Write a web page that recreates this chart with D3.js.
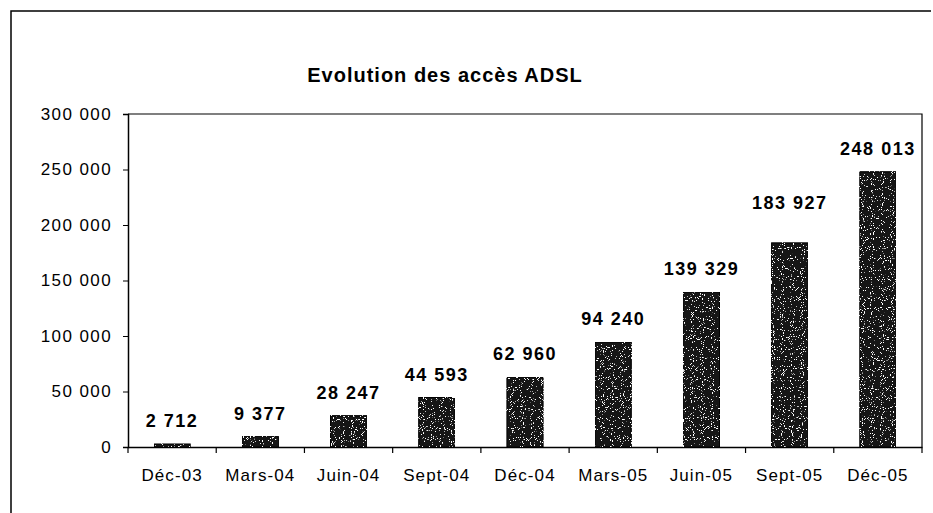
<!DOCTYPE html>
<html>
<head>
<meta charset="utf-8">
<script src="https://cdn.jsdelivr.net/npm/d3@7"></script>
<style>
  body { margin: 0; background: #fff; }
  svg { display: block; font-family: "Liberation Sans", Arial, sans-serif; }
</style>
</head>
<body>
<svg id="viz"></svg>
<script>
// ----------------------- DATA
const title = 'Evolution des accès ADSL';
const categories = ['Déc-03', 'Mars-04', 'Juin-04', 'Sept-04', 'Déc-04', 'Mars-05', 'Juin-05', 'Sept-05', 'Déc-05'];
const values = [2712, 9377, 28247, 44593, 62960, 94240, 139329, 183927, 248013];
const yTicks = [0, 50000, 100000, 150000, 200000, 250000, 300000];

// ----------------------- SETTINGS
const W = 933, H = 513;
const margin = { top: 114, right: 11, bottom: 66, left: 128 };
const width = W - margin.left - margin.right,
      height = H - margin.top - margin.bottom;

const fr = d3.formatLocale({ decimal: ',', thousands: ' ', grouping: [3], currency: ['', ' €'] });
const fmt = fr.format(',d');

const svg = d3.select('#viz').attr('width', W).attr('height', H);

// speckled scan look for the bars
const defs = svg.append('defs');
const f = defs.append('filter').attr('id', 'speckle').attr('x', 0).attr('y', 0).attr('width', 1).attr('height', 1);
f.append('feTurbulence').attr('type', 'fractalNoise').attr('baseFrequency', 0.9).attr('numOctaves', 1).attr('seed', 4).attr('result', 'noise');
f.append('feColorMatrix').attr('in', 'noise').attr('type', 'matrix')
  .attr('values', '0 0 0 0 1  0 0 0 0 1  0 0 0 0 1  -20 0 0 0 7.4')
  .attr('result', 'dots');
f.append('feComposite').attr('in', 'dots').attr('in2', 'SourceGraphic').attr('operator', 'in').attr('result', 'dotsIn');
f.append('feMerge').selectAll('feMergeNode').data(['SourceGraphic', 'dotsIn']).enter()
  .append('feMergeNode').attr('in', d => d);

// outer chart frame
svg.append('path')
  .attr('d', `M11,${H} V11 H${W - 2}`)
  .attr('fill', 'none').attr('stroke', '#000').attr('stroke-width', 1.5);

// title
svg.append('text')
  .attr('x', 445).attr('y', 82)
  .attr('text-anchor', 'middle')
  .style('font-size', '20px')
  .style('font-weight', 'bold')
  .style('letter-spacing', '1px')
  .text(title);

const chart = svg.append('g').attr('transform', `translate(${margin.left}, ${margin.top})`);

// ----------------------- SCALES
const x = d3.scaleBand().domain(categories).range([0, width]).paddingInner(0.59).paddingOuter(0.295);
const y = d3.scaleLinear().domain([0, 300000]).range([height, 0]);

// plot area box (top and right)
chart.append('path')
  .attr('d', `M0,${y(300000)} H${width} V${height}`)
  .attr('fill', 'none').attr('stroke', '#000').attr('stroke-width', 1.2);

// y axis
const yAxis = d3.axisLeft(y).tickValues(yTicks).tickFormat(fmt).tickSize(5).tickPadding(11);
const gy = chart.append('g').call(yAxis);
gy.select('.domain').attr('stroke-width', 1.5);
gy.selectAll('text').style('font-size', '17px').style('letter-spacing', '1.4px').attr('fill', '#000');

// x axis: labels centred, ticks on category boundaries
const xAxis = d3.axisBottom(x).tickSize(0).tickPadding(22);
const gx = chart.append('g').attr('transform', `translate(0, ${height})`).call(xAxis);
gx.select('.domain').attr('stroke-width', 1.5);
gx.selectAll('text').style('font-size', '17px').style('letter-spacing', '1.1px').attr('fill', '#000');
gx.selectAll('.bound')
  .data(d3.range(categories.length + 1))
  .enter().append('line')
  .attr('class', 'bound')
  .attr('x1', i => i * x.step()).attr('x2', i => i * x.step())
  .attr('y1', 0).attr('y2', 6)
  .attr('stroke', '#000').attr('stroke-width', 1.2);

// bars
const data = categories.map((c, i) => ({ cat: c, v: values[i] }));
chart.selectAll('.bar')
  .data(data)
  .enter().append('rect')
  .attr('class', 'bar')
  .attr('x', d => x(d.cat))
  .attr('y', d => y(d.v))
  .attr('width', x.bandwidth())
  .attr('height', d => height - y(d.v))
  .attr('fill', '#141414')
  .attr('stroke', '#000')
  .attr('stroke-width', 1)
  .attr('filter', 'url(#speckle)');

// value labels (Sept-05 label sits higher in the original)
chart.selectAll('.lbl')
  .data(data)
  .enter().append('text')
  .attr('class', 'lbl')
  .attr('x', d => x(d.cat) + x.bandwidth() / 2)
  .attr('y', d => y(d.v) - (d.cat === 'Sept-05' ? 34 : 17))
  .attr('text-anchor', 'middle')
  .style('font-size', '18px')
  .style('font-weight', 'bold')
  .style('letter-spacing', '1.5px')
  .text(d => fmt(d.v));
</script>
</body>
</html>
